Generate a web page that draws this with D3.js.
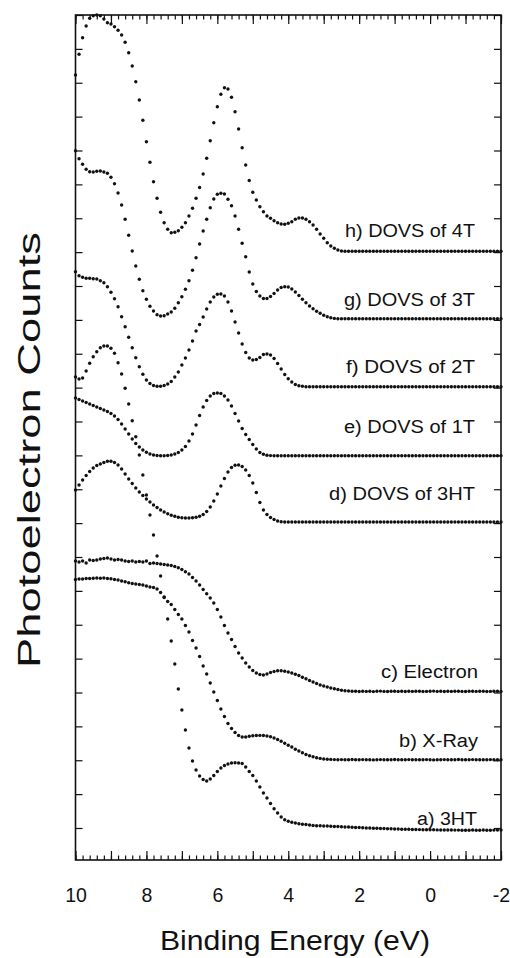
<!DOCTYPE html>
<html>
<head>
<meta charset="utf-8">
<script src="https://cdn.jsdelivr.net/npm/d3@7"></script>
<style>
  body { margin: 0; background: #fff; }
  text { font-family: "Liberation Sans", Arial, sans-serif; fill: #111; }
</style>
</head>
<body>
<svg id="chart" width="510" height="958"></svg>
<script>
// binding energy grid, 10 eV down to -2 eV in 0.1 eV steps
const energies = d3.range(100, -21, -1).map(k => k / 10);

// photoelectron counts (arb. units, offset per spectrum)
const curveA3HT = [
  623, 621, 622, 629, 636.7, 643.3, 648.3, 652.3, 654, 654,
  651.7, 646.7, 637.3, 626, 611.7, 596, 579.3, 563.3, 545, 525,
  505, 485, 465, 444, 424, 403, 381, 359, 336, 311,
  290, 270, 252, 239, 230, 224, 220.5, 219, 221, 224.5,
  228.5, 232, 234.5, 236, 237, 237.3, 237, 236.5, 233, 228.5,
  224.5, 219, 213, 207, 202, 196.5, 191.3, 187, 183, 180.2,
  178.7, 177.7, 177, 176.2, 175.8, 175.5, 175, 174.5, 174.3, 174.2,
  174, 174, 173.8, 173.5, 173.5, 173.3, 173, 173, 172.8, 172.5,
  172.5, 172.3, 172, 172, 171.8, 171.7, 171.5, 171.5, 171.3, 171.2,
  171, 171, 170.8, 170.8, 170.7, 170.5, 170.5, 170.4, 170.3, 170.3,
  170.2, 170.2, 170.1, 170, 170, 170, 170, 169.9, 169.9, 169.8,
  169.8, 169.8, 170, 169.7, 169.8, 170, 169.7, 169.8, 169.9, 170,
  170
];
const curveBXray = [
  420.5, 421, 421, 421.5, 421.5, 421.7, 422, 421.7, 422, 421.5,
  421.2, 420.5, 420, 419, 418.2, 417.3, 416.5, 416, 415.5, 415,
  414, 413, 412.5, 411, 407.5, 402.5, 398.5, 395.5, 390.5, 385.5,
  381, 374.5, 368, 359.5, 352, 343.5, 334, 326, 317, 308,
  299.5, 291, 283.5, 276.5, 271.5, 267.5, 264.5, 263, 263, 263.7,
  264.2, 264.5, 264.6, 264.5, 264, 263.2, 262, 260.5, 258.7, 256.8,
  254.8, 253, 250.8, 249, 247.2, 245.5, 244.3, 243.3, 242.2, 241.6,
  241, 240.8, 240.6, 240.4, 240.3, 240.4, 240.2, 240.3, 240.5, 240.3,
  240.2, 240.4, 240.3, 240.3, 240.1, 240.3, 240.4, 240.2, 240.3, 240.3,
  240.5, 240.3, 240.2, 240.3, 240.4, 240.3, 240.2, 240.3, 240.3, 240.4,
  240.3, 240.1, 240.3, 240.3, 240.4, 240.2, 240.3, 240.3, 240.5, 240.3,
  240.2, 240.3, 240.4, 240.3, 240.3, 240.2, 240.3, 240.4, 240.3, 240.3,
  240.3
];
const curveCElectron = [
  439, 438, 439, 437, 440, 439.5, 440, 441, 441.5, 442,
  441, 440, 440.5, 440, 439, 438.5, 439, 438, 438.5, 438,
  439, 436.5, 437, 436.5, 436, 435.5, 435, 434.5, 433.5, 432.2,
  430.5, 428.3, 426, 422.5, 419, 415, 410.5, 406.3, 402, 397,
  390.5, 383, 374.5, 367, 360.5, 353.5, 347, 342, 337, 333,
  329.5, 327, 325.5, 325, 326, 327.5, 328.5, 329.2, 329.2, 328.7,
  328, 327, 325.8, 324.5, 322.8, 321.2, 319.5, 318, 316.5, 315,
  314, 313, 312, 311.2, 310.5, 309.8, 309.3, 309, 308.8, 308.7,
  308.5, 308.8, 308.6, 308.7, 308.4, 308.7, 308.9, 308.6, 308.5, 308.7,
  308.8, 308.6, 308.7, 308.5, 308.7, 308.6, 308.8, 308.7, 308.5, 308.6,
  308.7, 308.9, 308.6, 308.7, 308.5, 308.7, 308.6, 308.8, 308.7, 308.6,
  308.5, 308.7, 308.8, 308.6, 308.7, 308.7, 308.5, 308.6, 308.8, 308.7,
  308.6
];
const curveD3HT = [
  510, 515, 520, 524.5, 528.5, 532, 534.5, 536, 537.5, 538.7,
  538.7, 537.5, 535, 531, 526, 521, 516.5, 512, 508, 504.5,
  501, 498, 495, 492.5, 490, 488, 486.2, 484.8, 483.7, 482.8,
  482.2, 482, 482, 482.2, 482.7, 483.7, 485.5, 488.5, 493, 499,
  506, 514, 521.5, 528, 532.5, 534.7, 535, 533.5, 530, 524.5,
  517, 507.5, 497.5, 490, 485.5, 482.5, 480.5, 479, 478.3, 478,
  478, 478, 478, 478, 478, 478, 478, 478, 478, 478,
  478, 478, 478, 478, 478, 478, 478, 478, 478, 478,
  478, 478, 478, 478, 478, 478, 478, 478, 478, 478,
  478, 478, 478, 478, 478, 478, 478, 478, 478, 478,
  478, 478, 478, 478, 478, 478, 478, 478, 478, 478,
  478, 478, 478, 478, 478, 478, 478, 478, 478, 478,
  478
];
const curveE1T = [
  602, 600.5, 599, 597.5, 596, 594.5, 593, 591.5, 590, 588.5,
  586.5, 584, 580.5, 576, 571, 566, 561, 556.5, 553, 550,
  547.7, 546, 545, 544.5, 544.3, 544.3, 544.5, 545, 546, 547.5,
  550, 553.5, 559, 566, 575, 584.5, 593, 599.5, 604, 606.5,
  607, 606.5, 604, 600, 594, 586.5, 579, 571.5, 565.5, 560.5,
  555.5, 551, 547.5, 545.7, 544.8, 544.4, 544.3, 544.3, 544.3, 544.3,
  544.3, 544.3, 544.3, 544.3, 544.3, 544.3, 544.3, 544.3, 544.3, 544.3,
  544.3, 544.3, 544.3, 544.3, 544.3, 544.3, 544.3, 544.3, 544.3, 544.3,
  544.3, 544.3, 544.3, 544.3, 544.3, 544.3, 544.3, 544.3, 544.3, 544.3,
  544.3, 544.3, 544.3, 544.3, 544.3, 544.3, 544.3, 544.3, 544.3, 544.3,
  544.3, 544.3, 544.3, 544.3, 544.3, 544.3, 544.3, 544.3, 544.3, 544.3,
  544.3, 544.3, 544.3, 544.3, 544.3, 544.3, 544.3, 544.3, 544.3, 544.3,
  544.3
];
const curveF2T = [
  728.3, 724.3, 722.7, 721.7, 721.7, 721.3, 721, 719.3, 717.3, 713.3,
  707.7, 701.3, 693.3, 683.3, 673.3, 662.7, 652.3, 642.3, 633.3, 625.7,
  620, 616.5, 614.5, 613.7, 613.7, 614.5, 616, 618.5, 623, 628,
  635, 642, 650, 659, 669, 675.5, 683, 691, 698, 703,
  705.7, 706, 704, 698, 689, 678, 667, 656, 647.5, 642,
  640, 640.5, 642.5, 645.5, 646, 645, 641.5, 636.5, 631, 625.5,
  621.2, 618, 615.5, 614.3, 613.7, 613.3, 613.3, 613.3, 613.3, 613.3,
  613.3, 613.3, 613.3, 613.3, 613.3, 613.3, 613.3, 613.3, 613.3, 613.3,
  613.3, 613.3, 613.3, 613.3, 613.3, 613.3, 613.3, 613.3, 613.3, 613.3,
  613.3, 613.3, 613.3, 613.3, 613.3, 613.3, 613.3, 613.3, 613.3, 613.3,
  613.3, 613.3, 613.3, 613.3, 613.3, 613.3, 613.3, 613.3, 613.3, 613.3,
  613.3, 613.3, 613.3, 613.3, 613.3, 613.3, 613.3, 613.3, 613.3, 613.3,
  613.3
];
const curveG3T = [
  849.3, 841.3, 835.7, 830.7, 828.3, 828, 828.7, 829, 828, 826.7,
  822.7, 816.3, 807, 795, 780.7, 764.7, 749, 734, 720.7, 709.3,
  700.7, 693.7, 689, 685.3, 684, 684.3, 686, 688, 691.7, 697.3,
  703.3, 710.7, 719.3, 729.7, 742.3, 756, 769, 780.7, 792.3, 801,
  805.7, 806.7, 806, 800.7, 794.3, 784, 770.7, 756.7, 743.3, 728,
  716, 708.5, 704, 701.5, 701.5, 703.5, 706.5, 710, 712.5, 713.3,
  713, 711, 708, 704.5, 700.7, 697.2, 694, 691.2, 688.8, 686.7,
  684.8, 683.3, 682.2, 681.6, 681.3, 681.3, 681.3, 681.3, 681.3, 681.3,
  681.3, 681.3, 681.3, 681.3, 681.3, 681.3, 681.3, 681.3, 681.3, 681.3,
  681.3, 681.3, 681.3, 681.3, 681.3, 681.3, 681.3, 681.3, 681.3, 681.3,
  681.3, 681.3, 681.3, 681.3, 681.3, 681.3, 681.3, 681.3, 681.3, 681.3,
  681.3, 681.3, 681.3, 681.3, 681.3, 681.3, 681.3, 681.3, 681.3, 681.3,
  681.3
];
const curveH4T = [
  925, 945.7, 962.3, 974, 981.7, 984.3, 985, 984.3, 981, 977.3,
  976, 973.3, 969.7, 965, 957.7, 947.3, 934, 918.3, 900, 879.7,
  858.3, 837.7, 818.3, 801.7, 787.7, 777.3, 770.7, 767.3, 767.7, 769.3,
  772.7, 777.3, 784, 791.7, 801.7, 812.5, 826, 841.7, 859.3, 877.3,
  893.3, 905.7, 912.3, 911, 902.7, 888.3, 871, 852.3, 835, 819.5,
  807.8, 800, 793.3, 788.3, 784, 781.7, 779.3, 777.3, 776, 775.7,
  776.7, 778.3, 780.7, 782, 782, 780.7, 778.3, 775, 770.7, 766,
  761.7, 757.3, 754, 751.7, 750, 749, 748.7, 748.7, 748.7, 748.7,
  748.7, 748.7, 748.7, 748.7, 748.7, 748.7, 748.7, 748.7, 748.7, 748.7,
  748.7, 748.7, 748.7, 748.7, 748.7, 748.7, 748.7, 748.7, 748.7, 748.7,
  748.7, 748.7, 748.7, 748.7, 748.7, 748.7, 748.7, 748.7, 748.7, 748.7,
  748.7, 748.7, 748.7, 748.7, 748.7, 748.7, 748.7, 748.7, 748.7, 748.7,
  748.7
];

const seriesLabels = [
  "a) 3HT", "b) X-Ray", "c) Electron", "d) DOVS of 3HT",
  "e) DOVS of 1T", "f) DOVS of 2T", "g) DOVS of 3T", "h) DOVS of 4T"
];
const seriesValues = [curveA3HT, curveBXray, curveCElectron, curveD3HT,
  curveE1T, curveF2T, curveG3T, curveH4T];

const xTickLabels = [10, 8, 6, 4, 2, 0, -2];

// label placement (right end, baseline, text length) in px
const labelLayout = [
  { end: 477, base: 825, len: 60 },
  { end: 478, base: 746.7, len: 79 },
  { end: 478, base: 678.3, len: 97 },
  { end: 475, base: 500, len: 146 },
  { end: 475, base: 433.3, len: 131 },
  { end: 475, base: 373.3, len: 129 },
  { end: 475, base: 306, len: 131 },
  { end: 475, base: 237.3, len: 130 }
];

const svg = d3.select("#chart");
const plot = { left: 75.5, right: 501, top: 15, bottom: 860 };

const x = d3.scaleLinear().domain([10, -2]).range([plot.left, plot.right]);
const y = d3.scaleLinear().domain([140, 985]).range([plot.bottom, plot.top]);

const minorE = d3.range(100, -21, -2).map(k => k / 10);
const majorE = d3.range(10, -3, -1);
const yTicks = d3.range(25).map(k => 985 - k * 33.875);

function tidy(g) {
  g.select(".domain").remove();
  g.selectAll("line").attr("stroke", "#111").attr("stroke-width", 1.2);
}

// bottom axis
svg.append("g").attr("transform", `translate(0,${plot.bottom})`)
  .call(d3.axisBottom(x).tickValues(minorE).tickSize(-4.5).tickFormat(""))
  .call(tidy);
svg.append("g").attr("transform", `translate(0,${plot.bottom})`)
  .call(d3.axisBottom(x).tickValues(majorE).tickSize(-9).tickFormat(""))
  .call(tidy);
svg.append("g").attr("transform", `translate(0,${plot.bottom})`)
  .call(d3.axisBottom(x).tickValues(xTickLabels).tickSize(0).tickPadding(28).tickFormat(d => String(d)))
  .call(g => g.select(".domain").remove())
  .call(g => g.selectAll("text").style("font-size", "19.5px").attr("fill", "#111")
    .style("font-family", "'Liberation Sans', Arial, sans-serif"));

// top axis
svg.append("g").attr("transform", `translate(0,${plot.top})`)
  .call(d3.axisTop(x).tickValues(minorE).tickSize(-4.5).tickFormat(""))
  .call(tidy);
svg.append("g").attr("transform", `translate(0,${plot.top})`)
  .call(d3.axisTop(x).tickValues(majorE).tickSize(-9).tickFormat(""))
  .call(tidy);

// left / right axes
svg.append("g").attr("transform", `translate(${plot.left},0)`)
  .call(d3.axisLeft(y).tickValues(yTicks).tickSize(-7).tickFormat(""))
  .call(tidy);
svg.append("g").attr("transform", `translate(${plot.right},0)`)
  .call(d3.axisRight(y).tickValues(yTicks).tickSize(-7).tickFormat(""))
  .call(tidy);

// frame
svg.append("rect")
  .attr("x", plot.left).attr("y", plot.top)
  .attr("width", plot.right - plot.left).attr("height", plot.bottom - plot.top)
  .attr("fill", "none").attr("stroke", "#111").attr("stroke-width", 1.6);

// spectra
seriesValues.forEach(vals => {
  svg.append("g").selectAll("circle")
    .data(vals)
    .join("circle")
    .attr("cx", (d, i) => x(energies[i]))
    .attr("cy", d => y(d))
    .attr("r", 1.7)
    .attr("fill", "#111");
});

// series labels
seriesLabels.forEach((lab, i) => {
  const L = labelLayout[i];
  svg.append("text")
    .attr("x", L.end - L.len).attr("y", L.base)
    .attr("textLength", L.len).attr("lengthAdjust", "spacingAndGlyphs")
    .style("font-size", "18px")
    .text(lab);
});

// axis titles
svg.append("text")
  .attr("x", 160).attr("y", 950)
  .attr("textLength", 270).attr("lengthAdjust", "spacingAndGlyphs")
  .style("font-size", "28px")
  .text("Binding Energy (eV)");

svg.append("text")
  .attr("transform", "translate(40,668) rotate(-90)")
  .attr("textLength", 436).attr("lengthAdjust", "spacingAndGlyphs")
  .style("font-size", "32px")
  .text("Photoelectron Counts");
</script>
</body>
</html>
